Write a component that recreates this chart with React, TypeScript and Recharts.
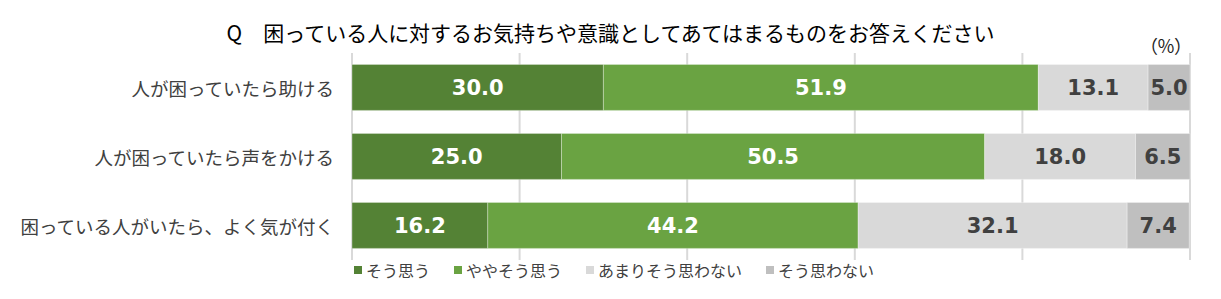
import React from "react";
import {
  BarChart,
  Bar,
  XAxis,
  YAxis,
  CartesianGrid,
  LabelList,
} from "recharts";

const categories = [
  "人が困っていたら助ける",
  "人が困っていたら声をかける",
  "困っている人がいたら、よく気が付く",
];
const soOmou = [30.0, 25.0, 16.2];
const yayaSoOmou = [51.9, 50.5, 44.2];
const amariSoOmowanai = [13.1, 18.0, 32.1];
const soOmowanai = [5.0, 6.5, 7.4];
const xTicks = [0, 20, 40, 60, 80, 100];

const series = [
  { key: "s1", name: "そう思う", color: "#548235", text: "#ffffff" },
  { key: "s2", name: "ややそう思う", color: "#6AA342", text: "#ffffff" },
  { key: "s3", name: "あまりそう思わない", color: "#D9D9D9", text: "#404040" },
  { key: "s4", name: "そう思わない", color: "#BFBFBF", text: "#404040" },
];

const data = categories.map((name, i) => ({
  name,
  s1: soOmou[i],
  s2: yayaSoOmou[i],
  s3: amariSoOmowanai[i],
  s4: soOmowanai[i],
}));

const FONT = "'Noto Sans CJK JP', 'Noto Sans', sans-serif";

const CategoryTick = (props: any) => {
  const { x, y, payload } = props;
  return (
    <text
      x={x - 10}
      y={y}
      textAnchor="end"
      dominantBaseline="central"
      fontSize={18.5}
      fill="#404040"
      fontFamily={FONT}
    >
      {payload.value}
    </text>
  );
};

export default function App() {
  return (
    <div
      style={{
        position: "absolute",
        left: 0,
        top: 0,
        width: 1221,
        height: 299,
        background: "#ffffff",
        fontFamily: FONT,
      }}
    >
      <div
        style={{
          position: "absolute",
          left: 0,
          width: 1221,
          top: 18,
          textAlign: "center",
          fontSize: 21,
          lineHeight: "28px",
          color: "#000000",
          whiteSpace: "nowrap",
        }}
      >
        Q　困っている人に対するお気持ちや意識としてあてはまるものをお答えください
      </div>
      <div
        style={{
          position: "absolute",
          left: 1140,
          top: 33,
          fontSize: 18,
          lineHeight: "24px",
          color: "#1f1f1f",
          letterSpacing: -1,
        }}
      >
        （％）
      </div>
      <div
        style={{
          position: "absolute",
          left: 354,
          top: 258,
          display: "flex",
          fontSize: 16,
          lineHeight: "24px",
          color: "#404040",
          whiteSpace: "nowrap",
        }}
      >
        {series.map((s) => (
          <div
            key={s.key}
            style={{ display: "flex", alignItems: "center", marginRight: 24 }}
          >
            <span
              style={{
                width: 8,
                height: 8,
                background: s.color,
                display: "inline-block",
                marginRight: 4,
              }}
            />
            <span>{s.name}</span>
          </div>
        ))}
      </div>
      <BarChart
        width={1221}
        height={299}
        data={data}
        layout="vertical"
        margin={{ top: 53, right: 31, bottom: 39, left: 0 }}
        barCategoryGap="16.5%"
        style={{ position: "absolute", left: 0, top: 0 }}
      >
        <CartesianGrid
          horizontal={false}
          vertical={true}
          stroke="#D9D9D9"
          strokeWidth={2}
        />
        <XAxis type="number" domain={[0, 100]} ticks={xTicks} hide />
        <YAxis
          type="category"
          dataKey="name"
          width={352}
          axisLine={false}
          tickLine={false}
          tick={<CategoryTick />}
        />
        {series.map((s) => (
          <Bar
            key={s.key}
            dataKey={s.key}
            name={s.name}
            stackId="a"
            fill={s.color}
            stroke="#ffffff"
            strokeOpacity={0.3}
            strokeWidth={1}
            isAnimationActive={false}
          >
            <LabelList
              dataKey={s.key}
              position="center"
              formatter={(v: any) => Number(v).toFixed(1)}
              fill={s.text}
              fontSize={21}
              fontWeight="bold"
              fontFamily="'DejaVu Sans', sans-serif"
            />
          </Bar>
        ))}
      </BarChart>
    </div>
  );
}
